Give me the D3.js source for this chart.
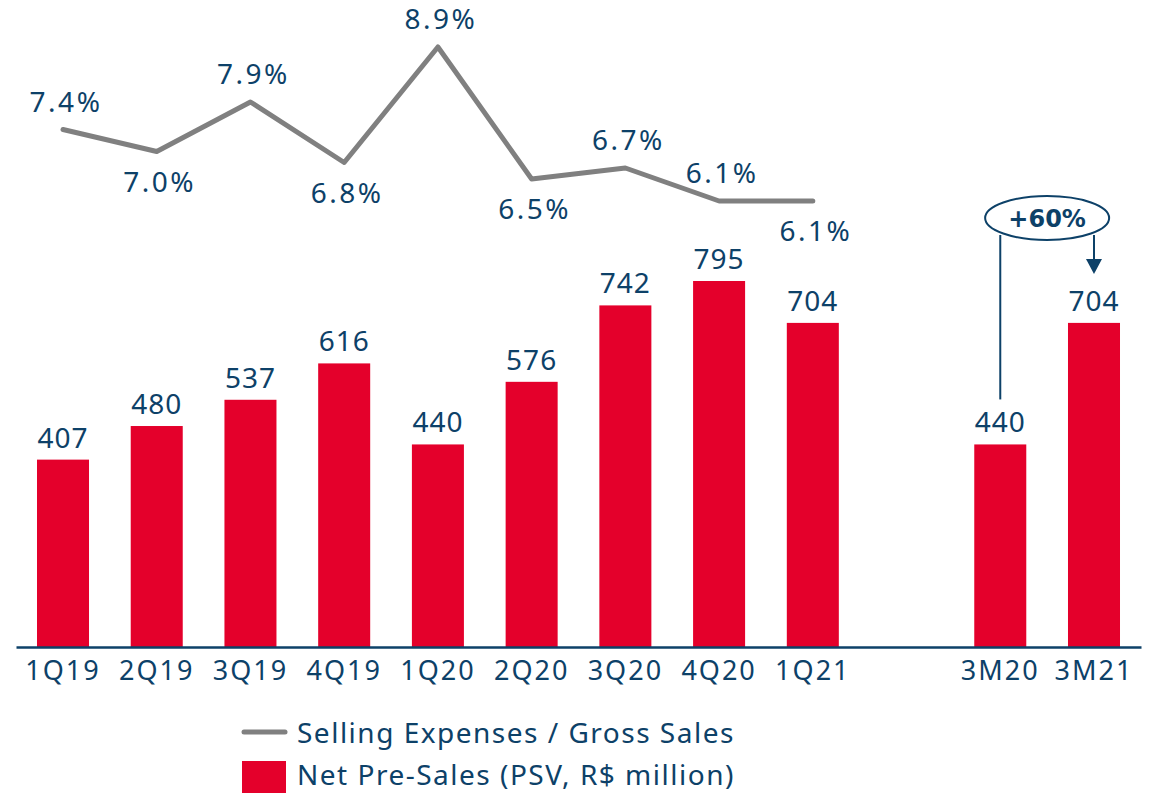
<!DOCTYPE html>
<html>
<head>
<meta charset="utf-8">
<script src="https://cdn.jsdelivr.net/npm/d3@7"></script>
<style>
  body { margin: 0; background: #fff; }
  svg { display: block; font-family: "Noto Sans", sans-serif; }
  .lbl { fill: #0d4168; }
</style>
</head>
<body>
<svg id="chart" width="1152" height="794"></svg>
<script>
// quarterly data
const quarters = ['1Q19', '2Q19', '3Q19', '4Q19', '1Q20', '2Q20', '3Q20', '4Q20', '1Q21'];
const netPreSales = [407, 480, 537, 616, 440, 576, 742, 795, 704];
const sellingExp = [7.4, 7.0, 7.9, 6.8, 8.9, 6.5, 6.7, 6.1, 6.1];
const pctSide = ['up', 'down', 'up', 'down', 'up', 'down', 'up', 'up', 'down'];

// year-to-date comparison
const periods = ['3M20', '3M21'];
const periodSales = [440, 704];
const growthLabel = '+60%';

const legendItems = ['Selling Expenses / Gross Sales', 'Net Pre-Sales (PSV, R$ million)'];

const navy = '#0d4168';
const red = '#e4002b';
const gray = '#808080';

const svg = d3.select('#chart');

const gap = ' ';
const x = d3.scaleBand()
  .domain([...quarters, gap, ...periods])
  .range([16, 1141])
  .paddingInner(0.445)
  .paddingOuter(0.224);

const y = d3.scaleLinear().domain([0, 795]).range([647, 281]);
const yPct = d3.scaleLinear().domain([6.1, 8.9]).range([201, 47]);

const bars = quarters.map((q, i) => ({ key: q, value: netPreSales[i] }))
  .concat(periods.map((p, i) => ({ key: p, value: periodSales[i] })));

const cx = (k) => x(k) + x.bandwidth() / 2;

svg.append('g').selectAll('rect').data(bars).join('rect')
  .attr('x', (d) => x(d.key))
  .attr('y', (d) => y(d.value))
  .attr('width', x.bandwidth())
  .attr('height', (d) => y(0) - y(d.value))
  .attr('fill', red);

svg.append('g').selectAll('text').data(bars).join('text')
  .attr('class', 'lbl')
  .attr('x', (d) => cx(d.key))
  .attr('y', (d) => y(d.value) - 12)
  .attr('text-anchor', 'middle')
  .style('font-size', '28px')
  .style('letter-spacing', '1px')
  .text((d) => d.value);

// axis
const axis = svg.append('g')
  .attr('transform', `translate(0,${y(0)})`)
  .call(d3.axisBottom(x).tickSize(0).tickPadding(14).tickSizeOuter(0));
axis.select('.domain').attr('stroke', navy).attr('stroke-width', 2.5);
axis.selectAll('.tick').filter((d) => d === gap).remove();
axis.selectAll('.tick text')
  .attr('fill', navy)
  .style('font-family', '"Noto Sans", sans-serif')
  .style('font-size', '27px')
  .style('letter-spacing', '2px');

// selling expenses line
const pts = quarters.map((q, i) => ({ key: q, value: sellingExp[i], side: pctSide[i] }));

svg.append('path')
  .datum(pts)
  .attr('fill', 'none')
  .attr('stroke', gray)
  .attr('stroke-width', 5)
  .attr('stroke-linecap', 'round')
  .attr('stroke-linejoin', 'round')
  .attr('d', d3.line().x((d) => cx(d.key)).y((d) => yPct(d.value)));

svg.append('g').selectAll('text').data(pts).join('text')
  .attr('class', 'lbl')
  .attr('x', (d) => cx(d.key) + 3)
  .attr('y', (d) => yPct(d.value) + (d.side === 'up' ? -18 : 40))
  .attr('text-anchor', 'middle')
  .style('font-size', '28px')
  .style('letter-spacing', '2.5px')
  .text((d) => d.value.toFixed(1) + '%');

// growth annotation
const ex = (cx(periods[0]) + cx(periods[1])) / 2;
const ey = 218;
const ann = svg.append('g');
ann.append('line')
  .attr('x1', cx(periods[0])).attr('x2', cx(periods[0]))
  .attr('y1', ey + 17).attr('y2', y(periodSales[0]) - 45)
  .attr('stroke', navy).attr('stroke-width', 2);
ann.append('line')
  .attr('x1', cx(periods[1])).attr('x2', cx(periods[1]))
  .attr('y1', ey + 17).attr('y2', y(periodSales[1]) - 60)
  .attr('stroke', navy).attr('stroke-width', 2);
ann.append('path')
  .attr('d', `M${cx(periods[1]) - 8},${y(periodSales[1]) - 64} L${cx(periods[1]) + 8},${y(periodSales[1]) - 64} L${cx(periods[1])},${y(periodSales[1]) - 49} Z`)
  .attr('fill', navy);
ann.append('ellipse')
  .attr('cx', ex).attr('cy', ey)
  .attr('rx', 62).attr('ry', 22)
  .attr('fill', '#fff')
  .attr('stroke', navy).attr('stroke-width', 2);
ann.append('text')
  .attr('x', ex).attr('y', ey + 9)
  .attr('text-anchor', 'middle')
  .attr('fill', navy)
  .style('font-family', '"DejaVu Sans", sans-serif')
  .style('font-weight', 'bold')
  .style('font-size', '24px')
  .text(growthLabel);

// legend
const legend = svg.append('g').attr('transform', 'translate(242,0)');
legend.append('line')
  .attr('x1', 2).attr('x2', 43).attr('y1', 732).attr('y2', 732)
  .attr('stroke', gray).attr('stroke-width', 5).attr('stroke-linecap', 'round');
legend.append('rect')
  .attr('x', 0).attr('y', 761).attr('width', 44).attr('height', 32)
  .attr('fill', red);
legend.selectAll('text.leg').data(legendItems).join('text')
  .attr('class', 'lbl leg')
  .attr('x', 55)
  .attr('y', (d, i) => 743 + i * 42)
  .style('font-size', '28px')
  .style('letter-spacing', '1.5px')
  .text((d) => d);
</script>
</body>
</html>
